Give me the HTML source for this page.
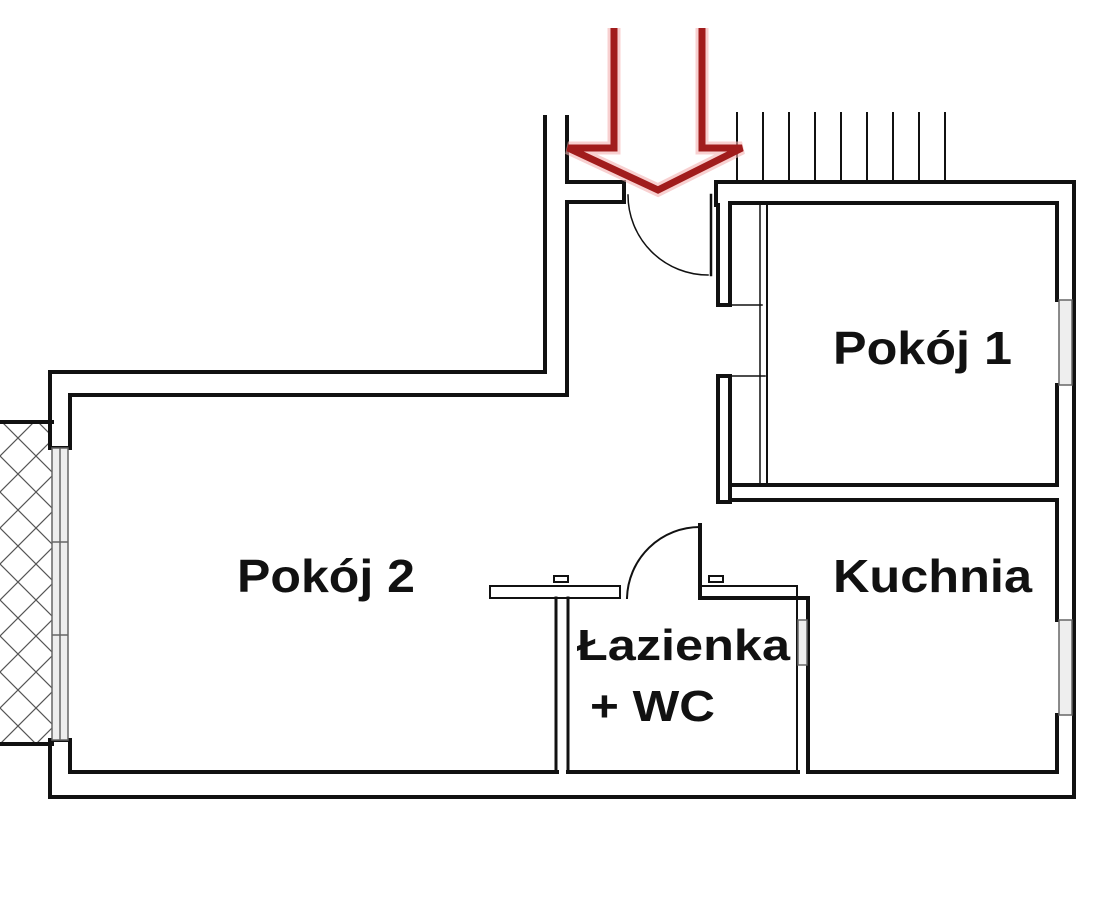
<!DOCTYPE html>
<html><head><meta charset="utf-8"><style>
html,body{margin:0;padding:0;background:#fff;width:1106px;height:901px;overflow:hidden}
text{font-family:"Liberation Sans",sans-serif;font-weight:bold;fill:#111}
</style></head><body>
<svg width="1106" height="901" viewBox="0 0 1106 901" xmlns="http://www.w3.org/2000/svg">
<defs>
<pattern id="hatch" width="36" height="36" patternUnits="userSpaceOnUse" patternTransform="translate(0,420)">
<path d="M0 0L36 36M36 0L0 36" stroke="#555" stroke-width="1.2"/>
</pattern>
</defs>
<rect x="0" y="420" width="52" height="325" fill="url(#hatch)"/>
<g stroke="#111" fill="none" stroke-width="4" stroke-linecap="square">
<line x1="0" y1="422" x2="52" y2="422"/>
<line x1="0" y1="744" x2="52" y2="744"/>
<polyline points="545,117 545,372 50,372 50,448"/>
<polyline points="50,740 50,797 1074,797 1074,182 716,182"/>
<polyline points="567,117 567,182 624,182"/>
<polyline points="567,202 624,202"/>
<polyline points="567,202 567,395 70,395 70,448 50,448"/>
<polyline points="50,740 70,740 70,772 557,772"/>
<polyline points="568,772 798,772"/>
<polyline points="810,772 1057,772 1057,715"/>
<polyline points="1057,620 1057,500 730,500 730,485 1057,485 1057,385"/>
<polyline points="1057,300 1057,203 730,203"/>
<polyline points="716,182 716,205 718,205 718,305 730,305 730,203"/>
<line x1="730" y1="305" x2="762" y2="305" stroke-width="1.5"/>
<polyline points="718,502 718,376 730,376 730,502"/>
<line x1="730" y1="376" x2="765" y2="376" stroke-width="1.5"/>
<line x1="718" y1="502" x2="730" y2="502"/>
<line x1="760" y1="205" x2="760" y2="485" stroke-width="1.5"/>
<line x1="767" y1="205" x2="767" y2="485" stroke-width="2"/>
<line x1="624" y1="182" x2="624" y2="202"/>
<line x1="711" y1="195" x2="711" y2="275" stroke-width="2.5"/>
<path d="M628 195 A80 80 0 0 0 708 275" stroke-width="1.5"/>
<polyline points="490,586 490,598 620,598 620,586 490,586" stroke-width="2"/>
<polyline points="700,598 700,525"/>
<polyline points="700,586 700,598 808,598 808,772"/>
<polyline points="700,586 797,586" stroke-width="2"/>
<line x1="797" y1="586" x2="797" y2="772" stroke-width="2"/>
<polyline points="556,598 556,772" stroke-width="3"/>
<polyline points="568,598 568,772" stroke-width="3"/>
<path d="M700 527 A73 73 0 0 0 627 598" stroke-width="2"/>
<rect x="554" y="576" width="14" height="6" stroke-width="2"/>
<rect x="709" y="576" width="14" height="6" stroke-width="2"/>
<g stroke-width="2">
<line x1="737" y1="113" x2="737" y2="180"/><line x1="763" y1="113" x2="763" y2="180"/>
<line x1="789" y1="113" x2="789" y2="180"/><line x1="815" y1="113" x2="815" y2="180"/>
<line x1="841" y1="113" x2="841" y2="180"/><line x1="867" y1="113" x2="867" y2="180"/>
<line x1="893" y1="113" x2="893" y2="180"/><line x1="919" y1="113" x2="919" y2="180"/>
<line x1="945" y1="113" x2="945" y2="180"/>
</g>
</g>
<g stroke="#666" fill="#eee" stroke-width="1.5">
<rect x="52" y="448" width="16" height="292"/>
<line x1="60" y1="448" x2="60" y2="740"/>
<line x1="52" y1="542" x2="68" y2="542"/><line x1="52" y1="635" x2="68" y2="635"/>
<rect x="1059" y="300" width="13" height="85"/>
<rect x="1059" y="620" width="13" height="95"/>
<rect x="798" y="620" width="9" height="45"/>
</g>
<polyline points="614,28 614,148 568,148 658,190 742,148 702,148 702,28" fill="none" stroke="#f4b0b0" stroke-width="13" stroke-linejoin="miter" opacity="0.6"/>
<polyline points="614,28 614,148 568,148 658,190 742,148 702,148 702,28" fill="none" stroke="#a11c1c" stroke-width="7" stroke-linejoin="miter"/>
<text x="833" y="364" font-size="46" textLength="179" lengthAdjust="spacingAndGlyphs">Pokój 1</text>
<text x="237" y="592" font-size="46" textLength="178" lengthAdjust="spacingAndGlyphs">Pokój 2</text>
<text x="833" y="592" font-size="46" textLength="199" lengthAdjust="spacingAndGlyphs">Kuchnia</text>
<text x="577" y="660" font-size="44" textLength="213" lengthAdjust="spacingAndGlyphs">Łazienka</text>
<text x="590" y="721" font-size="44" textLength="125" lengthAdjust="spacingAndGlyphs">+ WC</text>
</svg>
</body></html>
